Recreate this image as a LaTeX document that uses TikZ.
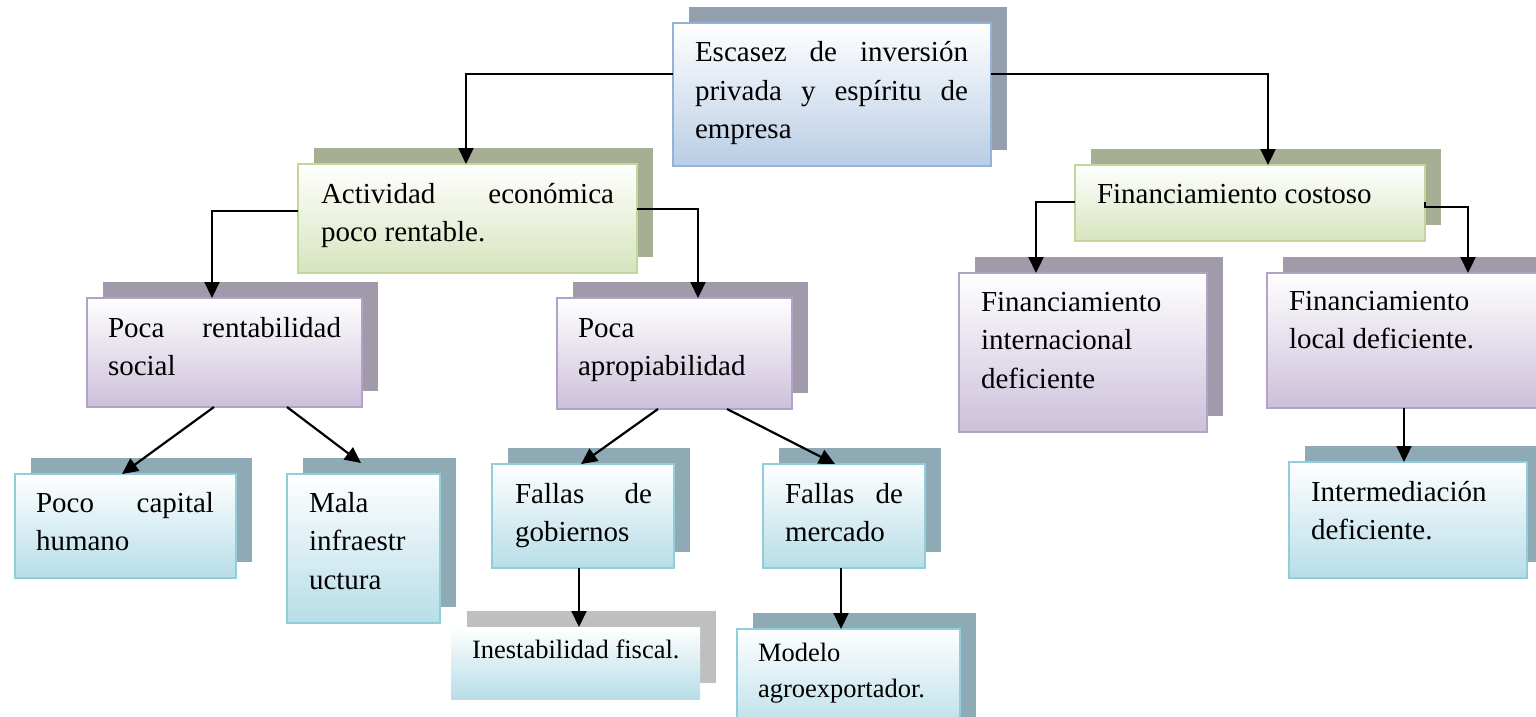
\documentclass[tikz,border=0pt]{standalone}
\usepackage{fontspec}
\setmainfont{Liberation Serif}
\usetikzlibrary{arrows.meta}
\definecolor{bluebot}{HTML}{B9CDE5}
\definecolor{blueline}{HTML}{95B3D7}
\definecolor{blueshadow}{HTML}{939FAE}
\definecolor{greenbot}{HTML}{D7E4BD}
\definecolor{greenline}{HTML}{C3D69B}
\definecolor{greenshadow}{HTML}{A6AF94}
\definecolor{purplebot}{HTML}{CCC0DA}
\definecolor{purpleline}{HTML}{B3A2C7}
\definecolor{purpleshadow}{HTML}{A19AAA}
\definecolor{aquabot}{HTML}{B7DDE8}
\definecolor{aqualine}{HTML}{92CDDC}
\definecolor{aquashadow}{HTML}{8EAAB4}
\definecolor{grayshadow}{HTML}{BFBFBF}
\newcommand\boxpair[7]{%
  \fill[#7] (#2+16,#3-16) rectangle (#4+16,#5-16);
  \node[#6, minimum width=#4pt-#2pt, minimum height=#5pt-#3pt] (#1) at ({(#2+#4)/2},{(#3+#5)/2}) {};
}
\tikzset{
  frontbox/.style={rectangle, inner sep=0pt, outer sep=0pt, line width=2pt},
  bluebox/.style={frontbox, draw=blueline, top color=white, bottom color=bluebot},
  greenbox/.style={frontbox, draw=greenline, top color=white, bottom color=greenbot},
  purplebox/.style={frontbox, draw=purpleline, top color=white, bottom color=purplebot},
  aquabox/.style={frontbox, draw=aqualine, top color=white, bottom color=aquabot},
  plainaquabox/.style={frontbox, top color=white, bottom color=aquabot},
  txt/.style={anchor=base west, inner sep=0pt, outer sep=0pt, align=flush left, font=\fontsize{29}{38.5}\selectfont},
  smalltxt/.style={txt, font=\fontsize{26.5}{36}\selectfont},
  conn/.style={line width=2.2pt, -{Triangle[width=15pt,length=16pt]}}
}
\begin{document}
\begin{tikzpicture}[x=1pt,y=-1pt]
\useasboundingbox (0,0) rectangle (1536,717);
\clip (0,0) rectangle (1536,717);
% boxes
\boxpair{esc}{673}{23}{991}{166}{bluebox}{blueshadow}
\boxpair{act}{298}{164}{637}{273}{greenbox}{greenshadow}
\boxpair{fin}{1075}{165}{1425}{241}{greenbox}{greenshadow}
\boxpair{prs}{87}{298}{362}{407}{purplebox}{purpleshadow}
\boxpair{pap}{557}{298}{792}{409}{purplebox}{purpleshadow}
\boxpair{fint}{959}{273}{1207}{432}{purplebox}{purpleshadow}
\boxpair{floc}{1267}{273}{1552}{408}{purplebox}{purpleshadow}
\boxpair{pch}{15}{474}{236}{578}{aquabox}{aquashadow}
\boxpair{mal}{287}{474}{440}{623}{aquabox}{aquashadow}
\boxpair{fgob}{492}{464}{674}{568}{aquabox}{aquashadow}
\boxpair{fmer}{763}{464}{925}{568}{aquabox}{aquashadow}
\boxpair{inest}{451}{627}{700}{699}{plainaquabox}{grayshadow}
\boxpair{mod}{737}{629}{960}{735}{aquabox}{aquashadow}
\boxpair{inter}{1289}{462}{1527}{578}{aquabox}{aquashadow}
% texts
\node[txt, text width=273pt] (esc-t) at (695,62) {Escasez\hfill de\hfill inversión\\privada\hfill y\hfill espíritu\hfill de\\empresa};
\node[txt, text width=293pt] (act-t) at (321,203) {Actividad\hfill económica\\poco rentable.};
\node[txt, text width=300pt] (fin-t) at (1097,203) {Financiamiento costoso};
\node[txt, text width=233pt] (prs-t) at (108,337) {Poca\hfill rentabilidad\\social};
\node[txt, text width=200pt] (pap-t) at (578,337) {Poca\\apropiabilidad};
\node[txt, text width=210pt] (fint-t) at (981,311) {Financiamiento\\internacional\\deficiente};
\node[txt, text width=220pt] (floc-t) at (1289,310) {Financiamiento\\local deficiente.};
\node[txt, text width=178pt] (pch-t) at (36,512) {Poco\hfill capital\\humano};
\node[txt, text width=120pt] (mal-t) at (309,512) {Mala\\infraestr\\uctura};
\node[txt, text width=137pt] (fgob-t) at (515,503) {Fallas\hfill de\\gobiernos};
\node[txt, text width=118pt] (fmer-t) at (785,503) {Fallas\hfill de\\mercado};
\node[smalltxt, text width=230pt] (inest-t) at (472,658) {Inestabilidad fiscal.};
\node[smalltxt, text width=200pt] (mod-t) at (758,661) {Modelo\\agroexportador.};
\node[txt, text width=200pt] (inter-t) at (1311,501) {Intermediación\\deficiente.};
% connectors
\draw[conn] ([yshift=-51pt]esc.north west) -| ([xshift=168pt]act.north west);
\draw[conn] ([yshift=-51pt]esc.north east) -| ([xshift=193pt]fin.north west);
\draw[conn] ([yshift=-47pt]act.north west) -| ([xshift=125pt]prs.north west);
\draw[conn] ([yshift=-45pt]act.north east) -| ([xshift=141pt]pap.north west);
\draw[conn] ([yshift=-37pt]fin.north west) -| ([xshift=77pt]fint.north west);
\draw[conn] ([yshift=-37pt]fin.north east) -- ++(0,5) -| ([xshift=201pt]floc.north west);
\draw[conn] ([xshift=127pt]prs.south west) -- ([xshift=107pt]pch.north west);
\draw[conn] ([xshift=200pt]prs.south west) -- ([xshift=74pt,yshift=11pt]mal.north west);
\draw[conn] ([xshift=101pt]pap.south west) -- ([xshift=89pt]fgob.north west);
\draw[conn] ([xshift=170pt]pap.south west) -- ([xshift=72pt]fmer.north west);
\draw[conn] ([xshift=87pt]fgob.south west) -- ([xshift=128pt]inest.north west);
\draw[conn] ([xshift=78pt]fmer.south west) -- ([xshift=104pt]mod.north west);
\draw[conn] ([xshift=137pt]floc.south west) -- ([xshift=115pt]inter.north west);
\end{tikzpicture}
\end{document}
